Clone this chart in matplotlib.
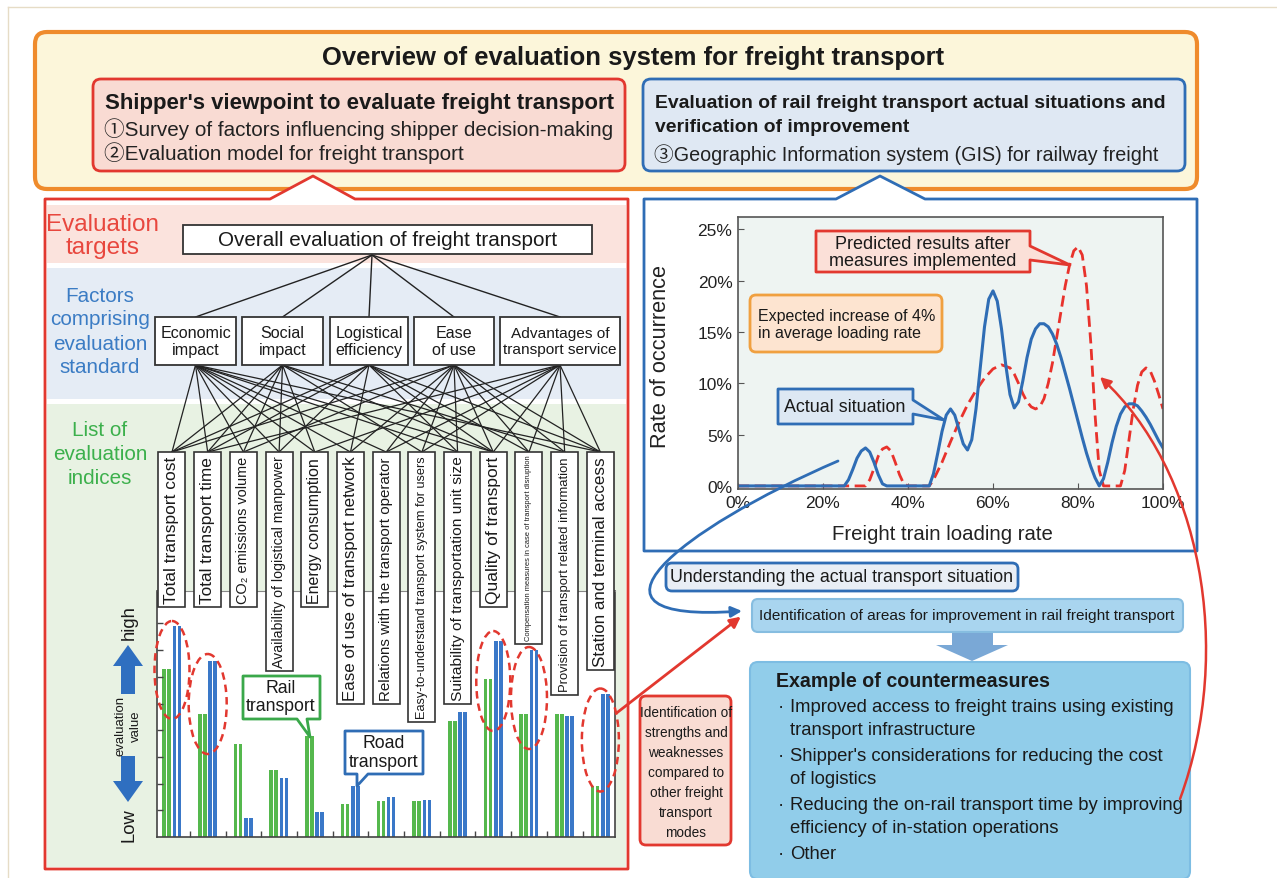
import matplotlib
matplotlib.use('Agg')
import matplotlib.pyplot as plt
from matplotlib.patches import Rectangle, FancyBboxPatch, Polygon, Ellipse, FancyArrowPatch
from matplotlib.path import Path

plt.rcParams['font.family'] = ['Liberation Sans', 'Noto Sans CJK JP', 'DejaVu Sans']
NARROW = ['Liberation Sans Narrow', 'Liberation Sans']

# ---------------- data ----------------
index_names = ['Total transport cost', 'Total transport time', 'CO\u2082 emissions volume',
               'Availability of logistical manpower', 'Energy consumption',
               'Ease of use of transport network', 'Relations with the transport operator',
               'Easy-to-understand transport system for users',
               'Suitability of transportation unit size', 'Quality of transport',
               'Compensation measures in case of transport disruption',
               'Provision of transport related information', 'Station and terminal access']
rail_value = [6.3, 4.6, 3.5, 2.5, 3.8, 1.25, 1.35, 1.35, 4.35, 5.9, 4.6, 4.6, 1.9]
road_value = [7.9, 6.6, 0.7, 2.2, 0.95, 1.9, 1.5, 1.4, 4.7, 7.35, 7.0, 4.55, 5.35]

factor_names = ['Economic\nimpact', 'Social\nimpact', 'Logistical\nefficiency',
                'Ease\nof use', 'Advantages of\ntransport service']
factor_links = [[0, 1, 2, 3, 4, 5, 6, 8, 9, 12],
                [0, 1, 2, 3, 4, 7, 9, 11],
                [0, 1, 3, 5, 8, 9, 10, 12],
                [0, 2, 5, 6, 7, 8, 9, 10, 11, 12],
                [1, 4, 6, 7, 9, 10, 11, 12]]

actual_x = [0, 25, 26, 27, 28, 29, 30, 31, 32, 33, 34, 35,
            45, 46, 47, 48, 49, 50, 51, 52, 53, 54, 55, 56, 57, 58, 59, 60, 61, 62, 63, 64,
            65, 66, 67, 68, 69, 70, 71, 72, 73, 74, 75, 76, 77, 78, 79, 80, 81, 82, 83, 84, 85,
            86, 87, 88, 89, 90, 91, 92, 93, 94, 95, 96, 97, 98, 99, 100]
actual_y = [0, 0, 0.6, 1.6, 2.7, 3.4, 3.7, 3.3, 2.3, 1.1, 0.2, 0,
            0, 1.2, 3.2, 5.3, 6.9, 7.5, 6.9, 5.5, 4.1, 3.5, 4.5, 7.5, 11.5, 15.5, 18.2, 19.0,
            18.0, 15.3, 11.8, 8.9, 7.6, 8.2, 10.2, 12.5, 14.3, 15.3, 15.8, 15.8, 15.5, 14.8,
            13.8, 12.5, 11.0, 9.5, 7.9, 6.3, 4.7, 3.2, 1.9, 0.8, 0,
            0.7, 2.3, 4.2, 5.8, 7.0, 7.7, 8.0, 8.0, 7.8, 7.3, 6.7, 6.0, 5.2, 4.4, 3.7]
pred_x = [0, 30, 31, 32, 33, 34, 35, 36, 37, 38, 39, 40,
          45, 46, 48, 50, 52, 54, 56, 58, 60, 62, 64,
          65, 66, 67, 68, 69, 70, 71, 72, 73, 74, 75, 76, 77, 78, 79, 80, 81, 82, 83, 84, 85, 86,
          90, 91, 92, 93, 94, 95, 96, 97, 98, 99, 100]
pred_y = [0, 0, 0.6, 1.7, 2.9, 3.6, 3.8, 3.4, 2.3, 1.1, 0.2, 0,
          0, 0.6, 2.3, 4.3, 6.2, 7.9, 9.3, 10.5, 11.4, 11.8, 11.5,
          10.9, 10.0, 9.0, 8.2, 7.7, 7.5, 7.7, 8.5, 10.0, 12.0, 14.5, 17.0, 19.5, 21.5, 22.9,
          23.3, 22.5, 19.5, 14.0, 7.0, 1.5, 0,
          0, 1.5, 4.5, 7.5, 9.8, 11.1, 11.5, 11.2, 10.2, 8.9, 7.5]
rate_ticks = [0, 5, 10, 15, 20, 25]
load_ticks = [0, 20, 40, 60, 80, 100]

measures = [('Improved access to freight trains using existing', 'transport infrastructure'),
            ("Shipper's considerations for reducing the cost", 'of logistics'),
            ('Reducing the on-rail transport time by improving', 'efficiency of in-station operations'),
            ('Other',)]

# colours
RED = '#e2382f'
BLUE = '#2f6db5'
GREEN_T = '#3cb04c'
BLUE_T = '#3b7cc4'
ORANGE = '#ef8b2c'
BAR_G = '#55b84d'
BAR_B = '#3a78c8'

W, H = 1277, 879
fig = plt.figure(figsize=(W / 100, H / 100), dpi=100)
R = fig.canvas.get_renderer()


def px_axes(x0, y0, x1, y1, **kw):
    return fig.add_axes([x0 / W, 1 - y1 / H, (x1 - x0) / W, (y1 - y0) / H], **kw)


def fit(ax, x, y, s, length, size=12, **kw):
    # scale the font so the text spans the given number of pixels
    t = ax.text(x, y, s, fontsize=size, **kw)
    bb = t.get_window_extent(renderer=R)
    cur = bb.height if kw.get('rotation') == 90 else bb.width
    t.set_fontsize(size * length / cur)
    return t


def callout(ax, x0, y0, x1, y1, side, a, b, tip, fc, ec, lw=2, z=3):
    tx, ty = tip
    if side == 'top':
        pts = [(x0, y0), (a, y0), (tx, ty), (b, y0), (x1, y0), (x1, y1), (x0, y1)]
    elif side == 'bottom':
        pts = [(x0, y0), (x1, y0), (x1, y1), (b, y1), (tx, ty), (a, y1), (x0, y1)]
    else:
        pts = [(x0, y0), (x1, y0), (x1, a), (tx, ty), (x1, b), (x1, y1), (x0, y1)]
    ax.add_patch(Polygon(pts, closed=True, fc=fc, ec=ec, lw=lw, joinstyle='round', zorder=z))


def rbox(ax, x0, y0, x1, y1, fc, ec, lw=2, r=6, z=2):
    ax.add_patch(FancyBboxPatch((x0, y0), x1 - x0, y1 - y0,
                                boxstyle='round,pad=0,rounding_size=%d' % r,
                                fc=fc, ec=ec, lw=lw, zorder=z))


# ---------------- background layer ----------------
bg = px_axes(0, 0, W, H, zorder=0)
bg.set_xlim(0, W)
bg.set_ylim(H, 0)
bg.axis('off')

bg.plot([8, W], [8, 8], color='#e6dcc6', lw=1)
bg.plot([8, 8], [8, H], color='#e6dcc6', lw=1)

rbox(bg, 35, 33, 1197, 190, '#fcf6da', ORANGE, lw=3, r=12, z=1)
fit(bg, 633, 58, 'Overview of evaluation system for freight transport', 620,
    weight='bold', ha='center', va='center', color='#1a1a1a', zorder=5)

rbox(bg, 93, 80, 625, 172, '#f9dbd3', RED, lw=2, r=8)
fit(bg, 105, 104, "Shipper's viewpoint to evaluate freight transport", 509,
    weight='bold', ha='left', va='center', color='#1a1a1a', zorder=5)
t = fit(bg, 104, 129, '\u2460Survey of factors influencing shipper decision-making', 508,
        ha='left', va='center', color='#222222', zorder=5)
bg.text(104, 153, '\u2461Evaluation model for freight transport', fontsize=t.get_fontsize(),
        ha='left', va='center', color='#222222', zorder=5)

rbox(bg, 643, 80, 1185, 172, '#dfe8f3', BLUE, lw=2, r=8)
t = fit(bg, 655, 103, 'Evaluation of rail freight transport actual situations and', 508,
        weight='bold', ha='left', va='center', color='#1a1a1a', zorder=5)
bg.text(655, 127, 'verification of improvement', fontsize=t.get_fontsize(), weight='bold',
        ha='left', va='center', color='#1a1a1a', zorder=5)
fit(bg, 654, 155, '\u2462Geographic Information system (GIS) for railway freight', 504,
    ha='left', va='center', color='#222222', zorder=5)

# left (shipper) panel
callout(bg, 45, 200, 628, 870, 'top', 270, 355, (313, 177), 'white', RED, z=2)
bg.add_patch(Rectangle((47, 206), 579, 58, fc='#fbe3dd', ec='none', zorder=3))
bg.add_patch(Rectangle((47, 269), 579, 131, fc='#e5ecf5', ec='none', zorder=3))
bg.add_patch(Rectangle((47, 405), 579, 463, fc='#e8f2e3', ec='none', zorder=3))

t = fit(bg, 103, 225, 'Evaluation', 114, color='#e8473e', ha='center', va='center', zorder=5)
bg.text(103, 248, 'targets', fontsize=t.get_fontsize(), color='#e8473e', ha='center',
        va='center', zorder=5)
t = fit(bg, 100, 320, 'comprising', 100, color=BLUE_T, ha='center', va='center', zorder=5)
for s, yy in [('Factors', 297), ('evaluation', 345), ('standard', 368)]:
    bg.text(100, yy, s, fontsize=t.get_fontsize(), color=BLUE_T, ha='center', va='center',
            zorder=5)
for s, yy in [('List of', 431), ('evaluation', 455), ('indices', 479)]:
    bg.text(100, yy, s, fontsize=t.get_fontsize(), color=GREEN_T, ha='center', va='center',
            zorder=5)

# right (GIS) panel
callout(bg, 644, 200, 1197, 552, 'top', 836, 925, (880, 177), 'white', BLUE, z=2)

# ---------------- bar chart ----------------
bx0, bx1, by0, by1 = 157, 615, 592, 838
bax = px_axes(bx0, by0, bx1, by1, zorder=2)
n = len(index_names)
xmin, xmax = -0.42, n - 0.59
bax.set_xlim(xmin, xmax)
bax.set_ylim(0, (by1 - by0) / 26.7)
for off in (-0.22, -0.08):
    bax.bar([i + off for i in range(n)], rail_value, width=0.1, color=BAR_G, lw=0)
for off in (0.07, 0.21):
    bax.bar([i + off for i in range(n)], road_value, width=0.1, color=BAR_B, lw=0)
bax.set_yticks(range(1, 9))
bax.set_xticks([i + 0.5 for i in range(n - 1)])
bax.tick_params(direction='in', length=4, width=1, color='#444444',
                labelleft=False, labelbottom=False)
for side in ('left', 'bottom', 'right'):
    bax.spines[side].set_color('#444444')
    bax.spines[side].set_linewidth(1.2)
bax.spines['top'].set_color('#888888')
bax.spines['top'].set_linewidth(0.8)


def gx(i):
    return bx0 + (i - xmin) * (bx1 - bx0) / (xmax - xmin)


# ---------------- line chart ----------------
lax = px_axes(738, 218, 1163, 490, zorder=2)
lax.set_facecolor('#eef4f2')
lax.plot(pred_x, pred_y, color='#e8322c', lw=2, ls=(0, (4, 2)))
lax.plot(actual_x, actual_y, color=BLUE, lw=2.2)
lax.set_xlim(0, 100)
lax.set_ylim(-0.3, 26.2)
lax.set_yticks(rate_ticks)
lax.set_yticklabels(['%d%%' % v for v in rate_ticks])
lax.set_xticks(load_ticks)
lax.set_xticklabels(['%d%%' % v for v in load_ticks])
lax.tick_params(direction='in', length=4, color='#555555', labelsize=12.5,
                labelcolor='#222222', pad=4)
for sp in lax.spines.values():
    sp.set_color('#555555')
    sp.set_linewidth(1.2)

# ---------------- overlay ----------------
ov = px_axes(0, 0, W, H, zorder=5)
ov.set_xlim(0, W)
ov.set_ylim(H, 0)
ov.axis('off')

fit(ov, 942, 535, 'Freight train loading rate', 222, ha='center', va='center',
    color='#222222')
fit(ov, 661, 357, 'Rate of occurrence', 185, rotation=90, ha='center', va='center',
    color='#222222')

# hierarchy boxes
ov.add_patch(Rectangle((183, 226), 409, 29, fc='white', ec='#333333', lw=1.3, zorder=3))
fit(ov, 388, 241, 'Overall evaluation of freight transport', 340, ha='center', va='center',
    color='#1a1a1a', zorder=4)

factor_x = [(155, 236), (242, 323), (330, 408), (414, 494), (500, 620)]
fcx = [(a + b) / 2 for a, b in factor_x]
for cx in fcx:
    ov.plot([372, cx], [256, 318], color='#222222', lw=1, zorder=1)
index_top = 453
for j, links in enumerate(factor_links):
    for i in links:
        ov.plot([fcx[j], gx(i)], [366, index_top], color='#222222', lw=0.9, zorder=1)

for a, b in factor_x:
    ov.add_patch(Rectangle((a, 318), b - a, 48, fc='white', ec='#333333', lw=1.3, zorder=3))
t = fit(ov, fcx[-1], 342, factor_names[-1], 114, ha='center', va='center',
        linespacing=1.1, color='#1a1a1a', zorder=4)
for j in range(len(factor_names) - 1):
    ov.text(fcx[j], 342, factor_names[j], fontsize=t.get_fontsize() * 1.05, ha='center',
            va='center', linespacing=1.1, color='#1a1a1a', zorder=4)

label_bottom = [608, 608, 608, 672, 608, 705, 705, 723, 705, 608, 645, 696, 671]
for i, name in enumerate(index_names):
    cx = gx(i)
    bot = label_bottom[i]
    ov.add_patch(Rectangle((cx - 13.5, index_top), 27, bot - index_top, fc='white',
                           ec='#333333', lw=1.2, zorder=3))
    fit(ov, cx, bot - 4, name, bot - index_top - 8, rotation=90, ha='center', va='bottom',
        color='#1a1a1a', zorder=4)

# dashed ellipses around strong differences
for i, cy, w, h in [(0, 671, 35, 98), (1, 705, 38, 100), (9, 682, 34, 100),
                    (10, 699, 36, 102), (12, 741, 37, 103)]:
    ov.add_patch(Ellipse((gx(i), cy), w, h, fill=False, ec=RED, lw=1.8,
                         ls=(0, (3, 2)), zorder=4))

# rail / road callouts
callout(ov, 243, 677, 320, 720, 'bottom', 297, 307, (310, 738), 'white', '#3aa84a', lw=2)
t = fit(ov, 281, 707, 'transport', 70, ha='center', va='center', color='#1a1a1a', zorder=4)
ov.text(281, 689, 'Rail', fontsize=t.get_fontsize(), ha='center', va='center',
        color='#1a1a1a', zorder=4)
callout(ov, 345, 732, 423, 775, 'bottom', 357, 368, (357, 787), 'white', BLUE, lw=2)
t = fit(ov, 384, 763, 'transport', 70, ha='center', va='center', color='#1a1a1a', zorder=4)
ov.text(384, 744, 'Road', fontsize=t.get_fontsize(), ha='center', va='center',
        color='#1a1a1a', zorder=4)

# evaluation value axis label
ov.add_patch(Polygon([(128, 646), (143, 667), (135, 667), (135, 695), (121, 695), (121, 667),
                      (113, 667)], closed=True, fc='#2f6fc0', ec='none', zorder=3))
ov.add_patch(Polygon([(128, 803), (143, 782), (135, 782), (135, 757), (121, 757), (121, 782),
                      (113, 782)], closed=True, fc='#2f6fc0', ec='none', zorder=3))
t = fit(ov, 129, 623, 'high', 35, rotation=90, ha='center', va='center', color='#1a1a1a')
ov.text(129, 825, 'Low', fontsize=t.get_fontsize(), rotation=90, ha='center', va='center',
        color='#1a1a1a')
t = fit(ov, 120, 726, 'evaluation', 60, rotation=90, ha='center', va='center',
        color='#1a1a1a')
ov.text(136, 726, 'value', fontsize=t.get_fontsize(), rotation=90, ha='center',
        va='center', color='#1a1a1a')

# chart annotations
callout(ov, 816, 232, 1030, 273, 'right', 247, 261, (1070, 266), '#fbe0d8', RED, lw=2)
fit(ov, 923, 253, 'Predicted results after\nmeasures implemented', 188, ha='center',
    va='center', linespacing=1.0, color='#1a1a1a', zorder=4)
rbox(ov, 750, 296, 942, 353, '#fde4d0', '#f0a040', lw=2, r=6, z=3)
fit(ov, 758, 325, 'Expected increase of 4%\nin average loading rate', 178, ha='left',
    va='center', linespacing=1.1, color='#1a1a1a', zorder=4)
callout(ov, 778, 390, 913, 425, 'right', 401, 415, (944, 421), '#dde8f3', BLUE, lw=2)
fit(ov, 845, 408, 'Actual situation', 122, ha='center', va='center', color='#1a1a1a',
    zorder=4)

# flow boxes
rbox(ov, 666, 564, 1018, 592, '#e9eef5', BLUE, lw=2, r=6, z=3)
fit(ov, 842, 578, 'Understanding the actual transport situation', 345, ha='center',
    va='center', color='#1a1a1a', zorder=4, family=NARROW)
rbox(ov, 752, 600, 1183, 633, '#a9d5ef', '#86bde0', lw=1.5, r=6, z=3)
fit(ov, 967, 616, 'Identification of areas for improvement in rail freight transport', 415,
    ha='center', va='center', color='#1a1a1a', zorder=4, family=NARROW)
ov.add_patch(Polygon([(952, 634), (993, 634), (993, 646), (1008, 646), (972, 662), (936, 646),
                      (952, 646)], closed=True, fc='#7aa8d6', ec='none', zorder=3))

rbox(ov, 750, 663, 1190, 880, '#91cdea', '#7dbde3', lw=1.5, r=8, z=3)
fit(ov, 776, 682, 'Example of countermeasures', 273, weight='bold', ha='left',
    va='center', color='#1a1a1a', zorder=4)
t = fit(ov, 790, 708, measures[0][0], 385, ha='left', va='center', color='#1a1a1a', zorder=4)
mfs = t.get_fontsize()
yy = 708
for k, item in enumerate(measures):
    ov.text(778, yy, '\u00b7', fontsize=mfs, ha='left', va='center', color='#1a1a1a',
            zorder=4)
    for m, line in enumerate(item):
        if k or m:
            ov.text(790, yy, line, fontsize=mfs, ha='left', va='center', color='#1a1a1a',
                    zorder=4)
        yy += 23
    yy += 3

# arrows
ov.add_patch(FancyArrowPatch((614, 716), (743, 616), arrowstyle='-|>', mutation_scale=16,
                             color=RED, lw=2, zorder=3))
rbox(ov, 640, 697, 731, 846, '#f9dcd3', RED, lw=2, r=6, z=4)
strength_lines = ['Identification of', 'strengths and', 'weaknesses', 'compared to',
                  'other freight', 'transport', 'modes']
t = fit(ov, 686, 713, strength_lines[0], 92, ha='center', va='center', color='#1a1a1a',
        zorder=5, family=NARROW)
for k, s in enumerate(strength_lines[1:], start=1):
    ov.text(686, 713 + 20 * k, s, fontsize=t.get_fontsize(), ha='center', va='center',
            color='#1a1a1a', zorder=5, family=NARROW)

blue_path = Path([(838, 462), (680, 530), (560, 625), (742, 612)],
                 [Path.MOVETO, Path.CURVE4, Path.CURVE4, Path.CURVE4])
ov.add_patch(FancyArrowPatch(path=blue_path, arrowstyle='-|>', mutation_scale=16,
                             color=BLUE, lw=2, zorder=6))
red_path = Path([(1180, 800), (1235, 650), (1200, 470), (1100, 378)],
                [Path.MOVETO, Path.CURVE4, Path.CURVE4, Path.CURVE4])
ov.add_patch(FancyArrowPatch(path=red_path, arrowstyle='-|>', mutation_scale=16,
                             color=RED, lw=1.8, zorder=6))

fig.savefig('out.png', dpi=100)
